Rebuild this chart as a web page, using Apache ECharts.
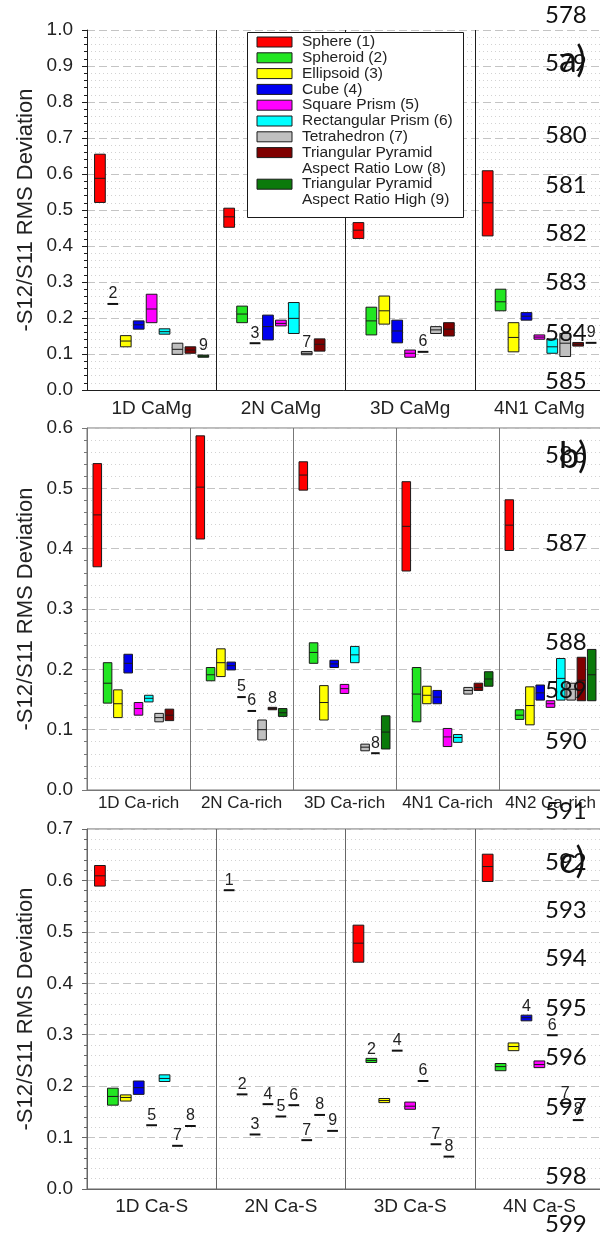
<!DOCTYPE html>
<html>
<head>
<meta charset="utf-8">
<script src="https://cdn.jsdelivr.net/npm/echarts/dist/echarts.min.js"></script>
<style>
  html, body { margin: 0; padding: 0; background: #ffffff; }
  #chart { width: 600px; height: 1238px; }
</style>
</head>
<body>
<div id="chart"></div>
<script>
// Particle shape models, in plotting order within each sample
const shapeNames = [
  'Sphere (1)', 'Spheroid (2)', 'Ellipsoid (3)', 'Cube (4)', 'Square Prism (5)',
  'Rectangular Prism (6)', 'Tetrahedron (7)',
  'Triangular Pyramid\nAspect Ratio Low (8)', 'Triangular Pyramid\nAspect Ratio High (9)'
];
const shapeColors = ['#ff0000', '#22e622', '#ffff00', '#0000f0', '#ff00ff', '#00ffff', '#c0c0c0', '#800000', '#0b7a0b'];

// Cell values: [low, median, high] for a range box, a single number for one value, null when absent.
// (a) CaMg samples
const camgCats = ['1D CaMg', '2N CaMg', '3D CaMg', '4N1 CaMg'];
const camgVals = [
  [[0.521, 0.588, 0.655], [0.452, 0.481, 0.505], [0.421, 0.444, 0.465], [0.428, 0.520, 0.609]],
  [0.239, [0.187, 0.211, 0.233], [0.153, 0.192, 0.230], [0.220, 0.245, 0.280]],
  [[0.120, 0.136, 0.151], 0.130, [0.183, 0.220, 0.261], [0.106, 0.146, 0.187]],
  [[0.169, 0.181, 0.192], [0.139, 0.176, 0.208], [0.131, 0.164, 0.194], [0.194, 0.205, 0.215]],
  [[0.187, 0.225, 0.266], [0.178, 0.185, 0.194], [0.091, 0.102, 0.111], [0.141, 0.147, 0.153]],
  [[0.155, 0.162, 0.170], [0.157, 0.199, 0.243], 0.106, [0.102, 0.120, 0.142]],
  [[0.099, 0.113, 0.130], [0.098, 0.102, 0.107], [0.157, 0.167, 0.176], [0.093, 0.130, 0.157]],
  [[0.102, 0.111, 0.120], [0.108, 0.127, 0.142], [0.150, 0.169, 0.187], [0.122, 0.127, 0.132]],
  [[0.091, 0.094, 0.097], null, null, 0.131]
];
const camgTags = [[2, 9], [3, 7], [6], [9]];

// (b) Ca-rich samples
const carichCats = ['1D Ca-rich', '2N Ca-rich', '3D Ca-rich', '4N1 Ca-rich', '4N2 Ca-rich'];
const carichVals = [
  [[0.370, 0.456, 0.541], [0.416, 0.502, 0.587], [0.497, 0.522, 0.544], [0.363, 0.437, 0.511], [0.397, 0.439, 0.481]],
  [[0.144, 0.177, 0.211], [0.181, 0.191, 0.203], [0.210, 0.228, 0.244], [0.113, 0.159, 0.203], [0.117, 0.124, 0.133]],
  [[0.120, 0.143, 0.166], [0.188, 0.211, 0.234], [0.116, 0.145, 0.173], [0.143, 0.157, 0.172], [0.108, 0.140, 0.171]],
  [[0.194, 0.210, 0.225], [0.199, 0.206, 0.212], [0.203, 0.209, 0.215], [0.143, 0.154, 0.165], [0.149, 0.161, 0.174]],
  [[0.124, 0.135, 0.145], 0.154, [0.160, 0.168, 0.175], [0.072, 0.088, 0.102], [0.137, 0.143, 0.148]],
  [[0.146, 0.152, 0.157], 0.131, [0.211, 0.224, 0.238], [0.079, 0.087, 0.092], [0.149, 0.185, 0.218]],
  [[0.113, 0.120, 0.127], [0.083, 0.100, 0.116], [0.065, 0.071, 0.076], [0.159, 0.165, 0.170], [0.149, 0.167, 0.177]],
  [[0.115, 0.124, 0.134], [0.133, 0.135, 0.137], 0.061, [0.165, 0.170, 0.177], [0.148, 0.182, 0.220]],
  [null, [0.122, 0.128, 0.135], [0.068, 0.096, 0.123], [0.172, 0.184, 0.196], [0.148, 0.191, 0.233]]
];
const carichTags = [[], [5, 6, 8], [8], [], []];

// (c) Ca-S samples
const casCats = ['1D Ca-S', '2N Ca-S', '3D Ca-S', '4N Ca-S'];
const casVals = [
  [[0.589, 0.609, 0.629], 0.581, [0.441, 0.478, 0.513], [0.598, 0.627, 0.651]],
  [[0.163, 0.180, 0.196], 0.184, [0.246, 0.250, 0.254], [0.230, 0.238, 0.244]],
  [[0.171, 0.178, 0.183], 0.106, [0.168, 0.172, 0.176], [0.269, 0.277, 0.284]],
  [[0.184, 0.197, 0.210], 0.165, 0.269, [0.327, 0.333, 0.338]],
  [0.124, 0.141, [0.155, 0.161, 0.169], [0.236, 0.242, 0.249]],
  [[0.209, 0.215, 0.222], 0.163, 0.210, 0.299],
  [0.084, 0.095, 0.087, 0.167],
  [0.1225, 0.144, 0.063, 0.134],
  [null, 0.113, null, null]
];
const casTags = [[5, 7, 8], [1, 2, 3, 4, 5, 6, 7, 8, 9], [2, 4, 6, 7, 8], [4, 6, 7, 8]];

// Axis ranges
const yMaxes = [1.0, 0.6, 0.7];
const yTitle = '-S12/S11 RMS Deviation';

// Page line numbers printed down the right margin
const marginNumbers = [578, 579, 580, 581, 582, 583, 584, 585, 586, 587, 588, 589, 590, 591, 592, 593, 594, 595, 596, 597, 598, 599];
const marginNumberY = [15, 63, 135, 185, 233, 282, 333, 381, 455, 543, 642, 690, 741, 811, 862, 910, 958, 1008, 1057, 1107, 1176, 1224];
const panelLetters = ['a)', 'b)', 'c)'];
const panelLetterY = [60, 456, 861];

const FONT = '"Liberation Sans", Arial, sans-serif';

const panels = [
  { cats: camgCats, vals: camgVals, tags: camgTags, frame: '#1e1e1e', xFont: 19, labelMargin: 9, grid: { left: 87, top: 30, height: 360, right: -4 } },
  { cats: carichCats, vals: carichVals, tags: carichTags, frame: '#777777', xFont: 17, labelMargin: 5, grid: { left: 87, top: 428, height: 362, right: -2, show: true, borderColor: '#777777', borderWidth: 1 } },
  { cats: casCats, vals: casVals, tags: casTags, frame: '#666666', xFont: 19, labelMargin: 8, grid: { left: 87, top: 829, height: 360, right: -4, show: true, borderColor: '#666666', borderWidth: 1 } }
];

// Draws one range box (with median bar) or a single-value bar, plus an optional shape number
function makeRender(shape) {
  return function (params, api) {
    const ci = api.value(0);
    const lo = api.value(1), md = api.value(2), hi = api.value(3), tag = api.value(4);
    const band = api.size([1, 0])[0];
    const cx = api.coord([ci, md])[0] + (shape - 4) * band * 0.1;
    const w = band * 0.083;
    const yMd = api.coord([ci, md])[1];
    const children = [];
    let topY;
    if (hi === lo) {
      children.push({ type: 'line', shape: { x1: cx - w / 2, y1: yMd, x2: cx + w / 2, y2: yMd }, style: { stroke: '#111111', lineWidth: 2 } });
      topY = yMd - 1;
    } else {
      const yHi = api.coord([ci, hi])[1];
      const yLo = api.coord([ci, lo])[1];
      children.push({ type: 'rect', shape: { x: cx - w / 2, y: yHi, width: w, height: yLo - yHi }, style: { fill: shapeColors[shape], stroke: '#1a1a1a', lineWidth: 1 } });
      children.push({ type: 'line', shape: { x1: cx - w / 2, y1: yMd, x2: cx + w / 2, y2: yMd }, style: { stroke: '#1a1a1a', lineWidth: 1 } });
      topY = yHi;
    }
    if (tag) {
      children.push({ type: 'text', style: { text: String(shape + 1), x: cx, y: topY - 1, align: 'center', verticalAlign: 'bottom', fontSize: 16, fill: '#222222', fontFamily: FONT } });
    }
    return { type: 'group', children: children };
  };
}

const grids = [], xAxes = [], yAxes = [], series = [];
panels.forEach(function (p, pi) {
  grids.push(Object.assign({ outerBoundsMode: 'none', containLabel: false }, p.grid));
  xAxes.push({
    type: 'category', gridIndex: pi, data: p.cats,
    axisLine: { show: true, lineStyle: { color: p.frame, width: 1 } },
    axisTick: { show: false },
    axisLabel: { fontSize: p.xFont, color: '#222222', fontFamily: FONT, margin: p.labelMargin, interval: 0, hideOverlap: false },
    splitLine: { show: true, interval: 0, lineStyle: { color: p.frame, width: 1, type: 'solid' } }
  });
  yAxes.push({
    type: 'value', gridIndex: pi, min: 0, max: yMaxes[pi], interval: 0.1,
    name: yTitle, nameLocation: 'middle', nameGap: 50, nameMoveOverlap: false,
    nameTextStyle: { fontSize: 22, color: '#222222', fontFamily: FONT },
    axisLine: { show: true, lineStyle: { color: p.frame, width: 1 } },
    axisTick: { show: true, length: 5, lineStyle: { color: p.frame } },
    minorTick: { show: true, splitNumber: 5, length: 3, lineStyle: { color: p.frame } },
    axisLabel: { fontSize: 19, color: '#222222', fontFamily: FONT, margin: 14, formatter: function (v) { return v.toFixed(1); } },
    splitLine: { show: true, lineStyle: { color: '#c4c4c4', width: 1, type: [8, 4] } },
    minorSplitLine: { show: true, lineStyle: { color: '#d2d2d2', width: 1, type: [1, 3] } }
  });
  for (let s = 0; s < 9; s++) {
    const data = [];
    p.vals[s].forEach(function (cell, ci) {
      if (cell === null || cell === undefined) return;
      const tag = p.tags[ci].indexOf(s + 1) >= 0 ? 1 : 0;
      if (Array.isArray(cell)) data.push([ci, cell[0], cell[1], cell[2], tag]);
      else data.push([ci, cell, cell, cell, tag]);
    });
    series.push({
      type: 'custom', name: shapeNames[s], xAxisIndex: pi, yAxisIndex: pi,
      renderItem: makeRender(s), data: data, clip: false, z: 5,
      encode: { x: 0, y: [1, 2, 3] }
    });
  }
});

// Legend box inside panel (a), stacked above the grid lines
const LEGEND_Z = 100;
const graphics = [
  { type: 'rect', z: LEGEND_Z, left: 247, top: 32, shape: { x: 0, y: 0, width: 216, height: 185 }, style: { fill: '#ffffff', stroke: '#1a1a1a', lineWidth: 1 } }
];
let line = 0;
shapeNames.forEach(function (name, i) {
  const cy = 42 + line * 15.8;
  graphics.push({ type: 'rect', z: LEGEND_Z + 1, x: 257, y: cy - 5, shape: { x: 0, y: 0, width: 35, height: 10 }, style: { fill: shapeColors[i], stroke: '#1a1a1a', lineWidth: 1 } });
  graphics.push({ type: 'text', z: LEGEND_Z + 1, x: 302, y: cy - 7.9, style: { text: name, align: 'left', verticalAlign: 'top', fontSize: 15.5, lineHeight: 15.8, fill: '#222222', fontFamily: FONT } });
  line += name.split('\n').length;
});
marginNumbers.forEach(function (n, i) {
  graphics.push({ type: 'text', z: 120, x: 545, y: marginNumberY[i], style: { text: String(n), align: 'left', verticalAlign: 'middle', fontSize: 24, fill: '#111111', fontFamily: 'Lato, "Open Sans", sans-serif' } });
});
panelLetters.forEach(function (t, i) {
  graphics.push({ type: 'text', z: 121, x: 559, y: panelLetterY[i], style: { text: t, align: 'left', verticalAlign: 'middle', fontSize: 36, fill: '#111111', fontFamily: 'Lato, "Open Sans", sans-serif' } });
});

const chart = echarts.init(document.getElementById('chart'), null, { renderer: 'canvas' });
chart.setOption({
  animation: false,
  backgroundColor: '#ffffff',
  textStyle: { fontFamily: FONT },
  grid: grids,
  xAxis: xAxes,
  yAxis: yAxes,
  series: series,
  graphic: { elements: graphics }
});
</script>
</body>
</html>
